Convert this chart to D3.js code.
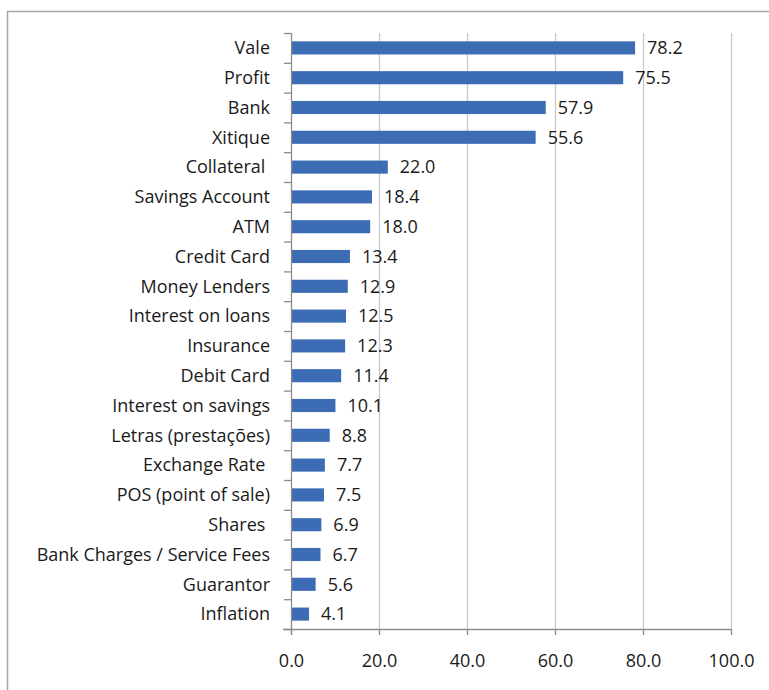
<!DOCTYPE html>
<html>
<head>
<meta charset="utf-8">
<script src="https://cdn.jsdelivr.net/npm/d3@7"></script>
<style>
  body { margin: 0; background: #fff; }
  text { font-family: "Open Sans", "Noto Sans", sans-serif; fill: #1a1a1a; white-space: pre; }
</style>
</head>
<body>
<div id="chart"></div>
<script>
/////////////////////////////////////
///      DATA
/////////////////////////////////////
var categories = ["Vale", "Profit", "Bank", "Xitique", "Collateral ", "Savings Account", "ATM",
  "Credit Card", "Money Lenders", "Interest on loans", "Insurance", "Debit Card",
  "Interest on savings", "Letras (prestações)", "Exchange Rate ", "POS (point of sale)",
  "Shares ", "Bank Charges / Service Fees", "Guarantor", "Inflation"];
var values = [78.2, 75.5, 57.9, 55.6, 22.0, 18.4, 18.0, 13.4, 12.9, 12.5, 12.3, 11.4,
  10.1, 8.8, 7.7, 7.5, 6.9, 6.7, 5.6, 4.1];
var xTicks = [0, 20, 40, 60, 80, 100];

var width = 769, height = 690;
var plot = {left: 291, right: 731, top: 33, bottom: 629};
var fontSize = 18;

var svg = d3.select("#chart").append("svg")
  .attr("width", width)
  .attr("height", height);

// outer frame (only top and left edges fall inside the picture)
svg.append("rect")
  .attr("x", 7.5).attr("y", 11.5)
  .attr("width", 900).attr("height", 900)
  .attr("fill", "none")
  .attr("stroke", "#a6a6a6")
  .attr("stroke-width", 1.5);

var x = d3.scaleLinear().domain([0, 100]).range([plot.left, plot.right]);
var y = d3.scaleBand().domain(categories).range([plot.top, plot.bottom]).paddingInner(0.56).paddingOuter(0.28);

// gridlines
svg.append("g")
  .selectAll("line")
  .data(xTicks.slice(1))
  .enter().append("line")
  .attr("x1", function(d){ return x(d) + 0.5; })
  .attr("x2", function(d){ return x(d) + 0.5; })
  .attr("y1", plot.top)
  .attr("y2", plot.bottom)
  .attr("stroke", "#c9c9c9")
  .attr("stroke-width", 1.3);

// bars
svg.append("g")
  .selectAll("rect")
  .data(values)
  .enter().append("rect")
  .attr("x", x(0) + 1)
  .attr("y", function(d, i){ return y(categories[i]); })
  .attr("width", function(d){ return x(d) - x(0) - 1; })
  .attr("height", y.bandwidth())
  .attr("fill", "#3c6db4");

// value labels
svg.append("g")
  .selectAll("text")
  .data(values)
  .enter().append("text")
  .attr("x", function(d){ return x(d) + 12; })
  .attr("y", function(d, i){ return y(categories[i]) + y.bandwidth() / 2; })
  .attr("dy", "0.35em")
  .attr("font-size", fontSize)
  .text(function(d){ return d.toFixed(1); });

// x axis
var xAxis = svg.append("g")
  .attr("transform", "translate(0," + plot.bottom + ")")
  .call(d3.axisBottom(x).tickValues(xTicks).tickFormat(d3.format(".1f")).tickSize(6).tickPadding(19));
xAxis.select(".domain").attr("stroke", "#8c8c8c").attr("stroke-width", 1.3)
  .attr("d", "M" + (plot.left - 8) + ",0.5H" + plot.right);
xAxis.selectAll(".tick line").attr("stroke", "#8c8c8c").attr("stroke-width", 1.3);
xAxis.selectAll(".tick text").attr("font-size", fontSize).attr("font-family", null).attr("fill", "#1a1a1a");

// y axis line and boundary ticks
var bounds = d3.range(categories.length + 1).map(function(i){ return plot.top + i * (plot.bottom - plot.top) / categories.length; });
var yAxis = svg.append("g");
yAxis.append("line")
  .attr("x1", plot.left + 0.5).attr("x2", plot.left + 0.5)
  .attr("y1", plot.top).attr("y2", plot.bottom + 6)
  .attr("stroke", "#8c8c8c").attr("stroke-width", 1.3);
yAxis.selectAll("line.tick")
  .data(bounds)
  .enter().append("line")
  .attr("class", "tick")
  .attr("x1", plot.left - 7).attr("x2", plot.left)
  .attr("y1", function(d){ return d + 0.5; })
  .attr("y2", function(d){ return d + 0.5; })
  .attr("stroke", "#8c8c8c").attr("stroke-width", 1.3);

// category labels
svg.append("g")
  .selectAll("text")
  .data(categories)
  .enter().append("text")
  .attr("x", 270)
  .attr("y", function(d){ return y(d) + y.bandwidth() / 2; })
  .attr("dy", "0.35em")
  .attr("text-anchor", "end")
  .attr("font-size", fontSize)
  .text(function(d){ return d; });
</script>
</body>
</html>
